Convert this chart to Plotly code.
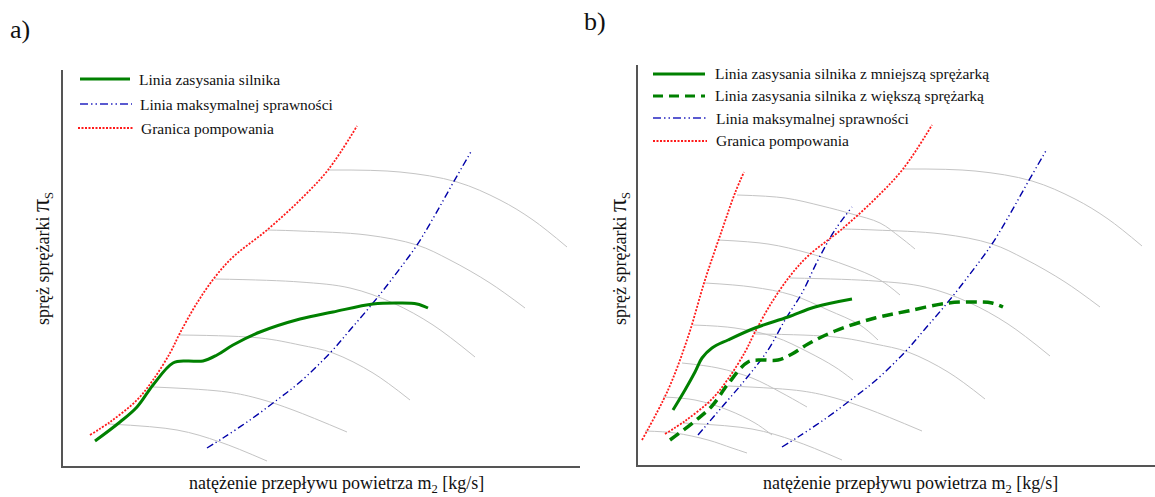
import plotly.graph_objects as go

W, H = 1155, 497

# ---------------- data (arbitrary schematic units) ----------------
# Compressor map of panel a) (re-used as the larger compressor in panel b)
surge_x = [27, 47, 74, 90, 107, 117, 134, 152, 170, 204, 237, 265, 294]
surge_y = [31, 44, 66, 86, 113, 133, 163, 189, 209, 236, 266, 296, 340]

engine_x = [32, 57, 74, 90, 110, 124, 140, 154, 170, 197, 237, 270, 310, 337, 354, 365]
engine_y = [25, 44, 59, 81, 103, 105, 105, 111, 121, 134, 147, 154, 162, 163, 162, 158]

eff_x = [144, 160, 187, 214, 237, 267, 287, 310, 332, 354, 372, 390, 409]
eff_y = [18, 28, 46, 66, 84, 113, 136, 163, 191, 221, 251, 283, 316]

speed_x = [
    [265, 337, 394, 437, 470, 504],
    [204, 237, 304, 354, 387, 427, 462],
    [152, 237, 287, 330, 370, 412],
    [117, 197, 237, 270, 310, 347],
    [90, 164, 197, 230, 284],
    [45, 114, 157, 204],
]
speed_y = [
    [296, 294, 284, 266, 246, 219],
    [236, 235, 231, 221, 206, 183, 158],
    [187, 184, 178, 163, 141, 109],
    [131, 128, 121, 113, 93, 66],
    [79, 74, 67, 56, 34],
    [42, 36, 24, 5],
]

# Smaller compressor (panel b)
small_surge_x = [4, 30, 50, 67, 84, 97, 106]
small_surge_y = [25, 75, 128, 185, 235, 272, 293]

small_engine_x = [35, 47, 57, 64, 74, 90, 117, 150, 177, 214]
small_engine_y = [55, 75, 93, 107, 117, 125, 137, 148, 158, 166]

small_eff_x = [60, 84, 107, 130, 147, 164, 180, 197, 214]
small_eff_y = [30, 58, 85, 115, 145, 172, 205, 235, 258]

small_speed_x = [
    [99, 147, 184, 214, 242, 262, 277],
    [80, 130, 170, 210, 242, 262],
    [67, 114, 154, 190, 222, 240],
    [55, 97, 137, 170, 197, 215],
    [44, 80, 114, 144, 169],
    [25, 57, 90, 117, 134],
    [7, 37, 70, 94, 109],
]
small_speed_y = [
    [270, 267, 259, 251, 242, 228, 216],
    [225, 221, 212, 199, 185, 170],
    [182, 178, 170, 155, 140, 125],
    [140, 137, 128, 113, 98, 85],
    [102, 97, 87, 72, 58],
    [68, 65, 55, 42, 30],
    [34, 32, 25, 17, 12],
]

legend_a = ["Linia zasysania silnika", "Linia maksymalnej sprawności", "Granica pompowania"]
legend_b = ["Linia zasysania silnika z mniejszą sprężarką",
            "Linia zasysania silnika z większą sprężarką",
            "Linia maksymalnej sprawności", "Granica pompowania"]
x_title = "natężenie przepływu powietrza m<sub>2</sub> [kg/s]"
y_title = "spręż sprężarki <span style='font-size:26px'>π</span><sub>S</sub>"

# ---------------- styles ----------------
GRAY = dict(color="#c4c4c4", width=1)
GREEN = "#008000"
BLUE = "#0000a8"
RED = "#ff1a1a"
S_GREEN = dict(color=GREEN, width=3)
S_GREEN_D = dict(color=GREEN, width=3.5, dash="11px,6px")
S_BLUE = dict(color=BLUE, width=1.4, dash="7px,3px,1.2px,3px,1.2px,3px")
S_RED = dict(color=RED, width=1.8, dash="2px,1.5px")
FONT = "Liberation Serif, Times New Roman, Times, serif"

fig = go.Figure()


def add(xs, ys, ax, style):
    st = dict(style)
    st["shape"] = "spline"
    fig.add_trace(go.Scatter(x=xs, y=ys, mode="lines", line=st,
                             xaxis="x" + ax, yaxis="y" + ax,
                             showlegend=False, hoverinfo="skip"))


# panel a
for xs, ys in zip(speed_x, speed_y):
    add(xs, ys, "", GRAY)
add(eff_x, eff_y, "", S_BLUE)
add(surge_x, surge_y, "", S_RED)
add(engine_x, engine_y, "", S_GREEN)

# panel b
for xs, ys in zip(small_speed_x, small_speed_y):
    add(xs, ys, "2", GRAY)
for xs, ys in zip(speed_x, speed_y):
    add(xs, ys, "2", GRAY)
add(small_eff_x, small_eff_y, "2", S_BLUE)
add(eff_x, eff_y, "2", S_BLUE)
add(small_surge_x, small_surge_y, "2", S_RED)
add(surge_x, surge_y, "2", S_RED)
add(small_engine_x, small_engine_y, "2", S_GREEN)
add(engine_x, engine_y, "2", S_GREEN_D)


def px(x):
    return x / W


def py(y):
    return 1 - y / H


axis_common = dict(showline=True, linecolor="#555555", linewidth=2, showgrid=False,
                   zeroline=False, showticklabels=False, ticks="", fixedrange=True)

fig.update_layout(
    width=W, height=H, margin=dict(l=0, r=0, t=0, b=0),
    paper_bgcolor="white", plot_bgcolor="white",
    xaxis=dict(domain=[px(63), px(580)], range=[0, 517], anchor="y", **axis_common),
    yaxis=dict(domain=[py(466), py(70)], range=[0, 396], anchor="x", **axis_common),
    xaxis2=dict(domain=[px(638), 1.0], range=[0, 517], anchor="y2", **axis_common),
    yaxis2=dict(domain=[py(465), py(65)], range=[0, 400], anchor="x2", **axis_common),
)

shapes = []
annotations = []


def legend_row(x0, x1, y, style, text, tx):
    ln = dict(color=style["color"], width=style["width"])
    if "dash" in style:
        ln["dash"] = style["dash"]
    shapes.append(dict(type="line", xref="paper", yref="paper",
                       x0=px(x0), x1=px(x1), y0=py(y), y1=py(y), line=ln))
    annotations.append(dict(xref="paper", yref="paper", x=px(tx), y=py(y),
                            xanchor="left", yanchor="middle", text=text, showarrow=False,
                            font=dict(family=FONT, size=15.5, color="#111111")))


LEG_BLUE = dict(color="#5a5ad0", width=2, dash="8px,3px,1.5px,3px,1.5px,3px")
legend_row(80, 130, 79, S_GREEN, legend_a[0], 137)
legend_row(80, 132, 104, LEG_BLUE, legend_a[1], 138)
legend_row(78, 133, 128, S_RED, legend_a[2], 139)

legend_row(653, 705, 74, S_GREEN, legend_b[0], 713)
legend_row(653, 705, 96, dict(color=GREEN, width=3, dash="10px,6px"), legend_b[1], 713)
legend_row(653, 708, 118, LEG_BLUE, legend_b[2], 714)
legend_row(653, 707, 141, S_RED, legend_b[3], 714)

# axis titles
for cx in (336, 910):
    annotations.append(dict(xref="paper", yref="paper", x=px(cx), y=py(484),
                            xanchor="center", yanchor="middle", text=x_title, showarrow=False,
                            font=dict(family=FONT, size=18, color="#111111")))
for cx in (41, 618):
    annotations.append(dict(xref="paper", yref="paper", x=px(cx), y=py(259),
                            xanchor="center", yanchor="middle", text=y_title, showarrow=False,
                            textangle=-90, font=dict(family=FONT, size=18, color="#111111")))

# panel labels
annotations.append(dict(xref="paper", yref="paper", x=px(20), y=py(29), xanchor="center",
                        yanchor="middle", text="a)", showarrow=False,
                        font=dict(family=FONT, size=26, color="#111111")))
annotations.append(dict(xref="paper", yref="paper", x=px(595), y=py(22), xanchor="center",
                        yanchor="middle", text="b)", showarrow=False,
                        font=dict(family=FONT, size=26, color="#111111")))

fig.update_layout(shapes=shapes, annotations=annotations)
fig.write_html("out.html", config={"displayModeBar": False},
               post_script="document.body.style.margin='0';document.body.style.overflow='hidden';")
